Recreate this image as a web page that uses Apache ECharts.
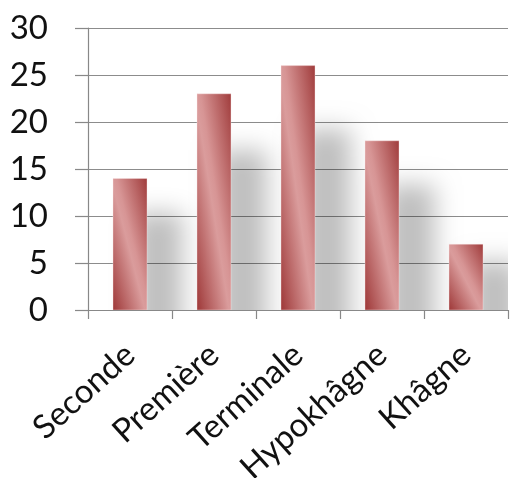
<!DOCTYPE html>
<html><head><meta charset="utf-8">
<script src="https://cdn.jsdelivr.net/npm/echarts@6/dist/echarts.min.js"></script>
<style>html,body{margin:0;padding:0;background:#fff}#c{width:510px;height:478px}</style>
</head><body><div id="c"></div>
<script>
const categories = ['Seconde', 'Première', 'Terminale', 'Hypokhâgne', 'Khâgne'];
const values = [14, 23, 26, 18, 7];
const yTicks = [0, 5, 10, 15, 20, 25, 30];

const chart = echarts.init(document.getElementById('c'));
const FONT = 'Lato';
const data = values.map((v, i) => [i, v]);

function renderItem(params, api) {
  const idx = api.value(0), val = api.value(1);
  const top = api.coord([idx, val]);
  const base = api.coord([idx, 0]);
  const band = api.size([1, 0])[0];
  const bw = band * 0.405;
  const x0 = top[0] - bw / 2;
  const h = base[1] - top[1];
  const sTop = api.coord([idx, val * 0.74])[1];
  const OFF = 3000;
  const L = Math.sqrt(h * h + bw * bw) || 1;
  const dx = h / L, dy = -bw / L;
  const ext = bw * h / L;
  const cx = x0 + bw / 2, cy = top[1] + h / 2;
  const grad = new echarts.graphic.LinearGradient(
    cx - dx * ext, cy - dy * ext, cx + dx * ext, cy + dy * ext,
    [
      { offset: 0, color: '#9e3838' },
      { offset: 0.47, color: '#da9c9c' },
      { offset: 0.55, color: '#d79595' },
      { offset: 1, color: '#a03c3c' }
    ], true);
  return {
    type: 'group',
    children: [
      {
        type: 'rect',
        shape: { x: x0 + bw * 0.6 - OFF, y: sTop, width: bw * 1.45, height: base[1] - sTop + 30 },
        style: { fill: '#000', shadowBlur: 24, shadowColor: 'rgba(0,0,0,0.25)', shadowOffsetX: OFF, shadowOffsetY: 0 }
      },
      {
        type: 'rect',
        shape: { x: x0, y: top[1], width: bw, height: h },
        style: { fill: grad, stroke: 'rgba(255,235,235,0.6)', lineWidth: 0.6 }
      }
    ]
  };
}

chart.setOption({
  animation: false,
  backgroundColor: '#fff',
  grid: { left: 88, right: 2, top: 28, bottom: 168, containLabel: false, outerBoundsMode: 'none' },
  xAxis: {
    type: 'category',
    data: categories,
    boundaryGap: true,
    axisLine: { show: true, lineStyle: { color: '#888', width: 1.2 } },
    axisTick: { show: true, length: 9, alignWithLabel: false, lineStyle: { color: '#888', width: 1.2 } },
    axisLabel: { rotate: 42, margin: 40, fontFamily: FONT, fontSize: 33, color: '#111', interval: 0 }
  },
  yAxis: {
    type: 'value',
    min: yTicks[0], max: yTicks[yTicks.length - 1], interval: 5,
    axisLine: { show: true, lineStyle: { color: '#888', width: 1.2 } },
    axisTick: { show: true, length: 13, lineStyle: { color: '#888', width: 1.2 } },
    splitLine: { show: true, lineStyle: { color: '#8c8c8c', width: 1.2 } },
    axisLabel: { margin: 40, fontFamily: FONT, fontSize: 33, color: '#111' }
  },
  series: [{
    type: 'custom',
    clip: true,
    renderItem: renderItem,
    encode: { x: 0, y: 1 },
    data: data
  }]
});
</script></body></html>
